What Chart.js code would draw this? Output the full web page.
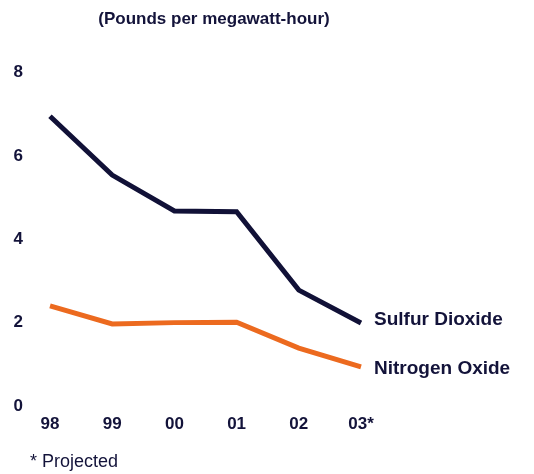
<!DOCTYPE html>
<html>
<head>
<meta charset="utf-8">
<script src="https://cdn.jsdelivr.net/npm/chart.js@4/dist/chart.umd.min.js"></script>
<style>
  html, body { margin: 0; padding: 0; background: #ffffff; }
  #wrap { position: relative; width: 534px; height: 474px; }
</style>
</head>
<body>
<div id="wrap"><canvas id="c" width="534" height="474"></canvas></div>
<script>
// Emission rates, pounds per megawatt-hour
const years = ['98', '99', '00', '01', '02', '03*'];
const sulfurDioxide = [6.95, 5.54, 4.68, 4.66, 2.78, 1.99];
const nitrogenOxide = [2.40, 1.97, 2.00, 2.01, 1.39, 0.94];
const seriesNames = ['Sulfur Dioxide', 'Nitrogen Oxide'];
const yTicks = [0, 2, 4, 6, 8];
const unitsLabel = '(Pounds per megawatt-hour)';
const footnote = '* Projected';

const NAVY = '#111137';
const ORANGE = '#ec6a1f';
const TEXT = '#13133a';
const FONT = '"Liberation Sans", Arial, Helvetica, sans-serif';

// Draws the units caption, the series names at the line ends and the footnote
const annotations = {
  id: 'annotations',
  afterDatasetsDraw(chart, args, opts) {
    const ctx = chart.ctx;
    const x = chart.scales.x, y = chart.scales.y;
    ctx.save();
    ctx.fillStyle = TEXT;

    ctx.font = 'bold 17px ' + FONT;
    ctx.textAlign = 'center';
    ctx.textBaseline = 'middle';
    ctx.fillText(unitsLabel, 214, 19);

    ctx.font = 'bold 19px ' + FONT;
    ctx.textAlign = 'left';
    chart.data.datasets.forEach((ds, i) => {
      const last = ds.data.length - 1;
      const px = x.getPixelForValue(last) + opts.gap;
      const py = y.getPixelForValue(ds.data[last]) + opts.shift[i];
      ctx.fillText(ds.label, px, py);
    });

    ctx.font = '18px ' + FONT;
    ctx.textAlign = 'left';
    ctx.fillText(footnote, 30, 462);
    ctx.restore();
  }
};

new Chart(document.getElementById('c'), {
  type: 'line',
  data: {
    labels: years,
    datasets: [
      {
        label: seriesNames[0],
        data: sulfurDioxide,
        borderColor: NAVY,
        borderWidth: 5,
        pointRadius: 0,
        tension: 0,
        borderJoinStyle: 'miter',
        borderCapStyle: 'butt'
      },
      {
        label: seriesNames[1],
        data: nitrogenOxide,
        borderColor: ORANGE,
        borderWidth: 5,
        pointRadius: 0,
        tension: 0,
        borderJoinStyle: 'miter',
        borderCapStyle: 'butt'
      }
    ]
  },
  options: {
    responsive: false,
    animation: false,
    events: [],
    layout: { padding: { left: 0, right: 173, top: 72.5, bottom: 0 } },
    plugins: {
      legend: { display: false },
      tooltip: { enabled: false },
      title: { display: false },
      annotations: { gap: 13, shift: [-3, 1.5] }
    },
    scales: {
      x: {
        offset: false,
        grid: { display: false, drawTicks: false },
        border: { display: false },
        ticks: {
          color: TEXT,
          font: { family: FONT, size: 17, weight: 'bold' },
          padding: 8,
          maxRotation: 0,
          autoSkip: false
        },
        afterFit(scale) { scale.height = 68; }
      },
      y: {
        min: 0,
        max: 8,
        grid: { display: false, drawTicks: false },
        border: { display: false },
        afterBuildTicks(scale) { scale.ticks = yTicks.map(v => ({ value: v })); },
        ticks: {
          color: TEXT,
          font: { family: FONT, size: 17, weight: 'bold' },
          padding: 27
        },
        afterFit(scale) { scale.width = 50; }
      }
    }
  },
  plugins: [annotations]
});
</script>
</body>
</html>
